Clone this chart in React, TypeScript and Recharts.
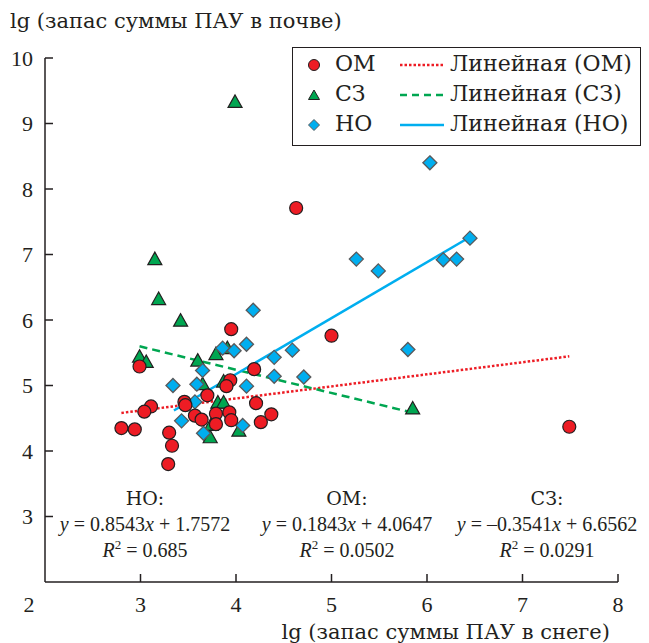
import React from 'react';
import { ScatterChart, Scatter, XAxis, YAxis, Legend } from 'recharts';

// values
const omX = [3.95, 2.99, 4.19, 3.94, 3.9, 3.7, 3.46, 3.47, 3.11, 3.04, 4.21, 4.37, 4.26, 2.8, 2.94, 3.3, 3.33, 3.29, 3.57, 3.64, 3.79, 3.79, 3.93, 3.95, 4.63, 5.0, 7.49];
const omY = [5.86, 5.29, 5.25, 5.08, 4.99, 4.85, 4.75, 4.7, 4.68, 4.6, 4.73, 4.56, 4.44, 4.35, 4.33, 4.28, 4.08, 3.8, 4.54, 4.48, 4.57, 4.41, 4.59, 4.47, 7.71, 5.76, 4.37];

const szX = [3.99, 3.15, 3.19, 3.42, 2.99, 3.06, 3.6, 3.79, 3.91, 3.65, 3.87, 3.81, 3.87, 3.74, 3.73, 4.03, 5.85];
const szY = [9.33, 6.93, 6.32, 5.99, 5.44, 5.36, 5.38, 5.48, 5.57, 5.02, 5.06, 4.74, 4.74, 4.4, 4.21, 4.31, 4.65];

const noX = [4.18, 3.86, 3.98, 4.11, 4.4, 4.59, 4.4, 3.65, 3.34, 3.59, 4.11, 3.57, 3.43, 3.66, 4.07, 6.03, 6.45, 5.26, 5.49, 6.17, 6.31, 5.8, 4.71];
const noY = [6.15, 5.57, 5.53, 5.63, 5.43, 5.54, 5.14, 5.23, 5.0, 5.02, 4.99, 4.75, 4.46, 4.27, 4.39, 8.4, 7.25, 6.93, 6.75, 6.92, 6.93, 5.55, 5.13];

// trend line end points
const omTrendX = [2.8, 7.49];
const omTrendY = [4.581, 5.445];
const szTrendX = [2.99, 5.85];
const szTrendY = [5.598, 4.585];
const noTrendX = [3.35, 6.45];
const noTrendY = [4.619, 7.267];

const xTicks = [2, 3, 4, 5, 6, 7, 8];
const yTicks = [3, 4, 5, 6, 7, 8, 9, 10];

const seriesNames = ['ОМ', 'СЗ', 'НО'];
const trendNames = ['Линейная (ОМ)', 'Линейная (СЗ)', 'Линейная (НО)'];

const eqNames = ['НО:', 'ОМ:', 'СЗ:'];
const eqSlopes = ['0.8543', '0.1843', '–0.3541'];
const eqIntercepts = ['1.7572', '4.0647', '6.6562'];
const eqR2 = ['0.685', '0.0502', '0.0291'];

const xTitle = 'lg (запас суммы ПАУ в снеге)';
const yTitle = 'lg (запас суммы ПАУ в почве)';

const zip = (xs: number[], ys: number[]) => xs.map((x, i) => ({ x, y: ys[i] }));

const FONT = "'Liberation Serif', serif";
// Liberation Serif has no Cyrillic here
const CYR = "'DejaVu Serif', serif";
const INK = '#231F20';
const RED = '#ED1C24';
const GREEN = '#00A651';
const BLUE = '#00AEEF';

const Circle = (p: any) => (
  <circle cx={p.cx} cy={p.cy} r={6.5} fill={RED} stroke={INK} strokeWidth={1.2} />
);
const Triangle = (p: any) => (
  <polygon
    points={`${p.cx},${p.cy - 7} ${p.cx - 7},${p.cy + 5.5} ${p.cx + 7},${p.cy + 5.5}`}
    fill={GREEN}
    stroke={INK}
    strokeWidth={1.2}
  />
);
const Diamond = (p: any) => (
  <polygon
    points={`${p.cx},${p.cy - 7} ${p.cx + 7},${p.cy} ${p.cx},${p.cy + 7} ${p.cx - 7},${p.cy}`}
    fill={BLUE}
    stroke="#58595B"
    strokeWidth={1.3}
  />
);
const NoDot = () => <g />;

// inward tick marks on both axes
const XTickMark = (p: any) => (
  <path d={`M${p.cx},${p.cy}V${p.cy - 8}`} stroke={INK} strokeWidth={1.5} fill="none" />
);
const YTickMark = (p: any) => (
  <path d={`M${p.cx},${p.cy}H${p.cx + 8}`} stroke={INK} strokeWidth={1.5} fill="none" />
);

const XTick = (p: any) => {
  const v = p.payload.value;
  return (
    <text x={v === 2 ? p.x - 16 : p.x} y={p.y + 20} dy="0.35em" textAnchor="middle" fontSize={22} fontFamily={FONT} fill={INK}>
      {v}
    </text>
  );
};

const YTick = (p: any) => (
  <text x={p.x - 10} y={p.y} dy="0.35em" textAnchor="end" fontSize={22} fontFamily={FONT} fill={INK}>
    {p.payload.value}
  </text>
);

const markIcons = [
  <circle cx={8} cy={8} r={5.5} fill={RED} stroke={INK} strokeWidth={1} />,
  <polygon points="8,3 2.5,12.5 13.5,12.5" fill={GREEN} stroke={INK} strokeWidth={1} />,
  <polygon points="8,2.5 13.5,8 8,13.5 2.5,8" fill={BLUE} stroke="#58595B" strokeWidth={1} />,
];
const lineIcons = [
  <line x1={0} x2={44} y1={8} y2={8} stroke={RED} strokeWidth={2.5} strokeDasharray="2.5 2" />,
  <line x1={0} x2={44} y1={8} y2={8} stroke={GREEN} strokeWidth={2.5} strokeDasharray="7 5" />,
  <line x1={0} x2={44} y1={8} y2={8} stroke={BLUE} strokeWidth={2.5} />,
];

const renderLegend = () => (
  <div
    style={{
      position: 'relative',
      width: 349,
      height: 99,
      boxSizing: 'border-box',
      border: `1.5px solid ${INK}`,
      background: '#fff',
      fontFamily: CYR,
      fontSize: 22,
      color: INK,
    }}
  >
    {seriesNames.map((name, i) => (
      <React.Fragment key={name}>
        <svg width={16} height={16} style={{ position: 'absolute', left: 13, top: 9 + i * 30 }}>
          {markIcons[i]}
        </svg>
        <span style={{ position: 'absolute', left: 42, top: 2 + i * 30, lineHeight: '28px' }}>{name}</span>
        <svg width={44} height={16} style={{ position: 'absolute', left: 107, top: 9 + i * 30 }}>
          {lineIcons[i]}
        </svg>
        <span style={{ position: 'absolute', left: 157, top: 2 + i * 30, lineHeight: '28px', whiteSpace: 'nowrap' }}>
          {trendNames[i]}
        </span>
      </React.Fragment>
    ))}
  </div>
);

const eqCenters = [145, 347, 547];

export default function App() {
  return (
    <div style={{ position: 'absolute', left: 0, top: 0, width: 649, height: 643, overflow: 'hidden', background: '#fff', fontFamily: FONT, color: INK }}>
      <ScatterChart width={649} height={643} margin={{ top: 58, right: 31, bottom: 40, left: 25 }}>
        <XAxis
          type="number"
          dataKey="x"
          domain={[2, 8]}
          ticks={xTicks}
          interval={0}
          height={21}
          tickSize={0}
          tickLine={false}
          tick={<XTick />}
          axisLine={{ stroke: INK, strokeWidth: 1.5 }}
        />
        <YAxis
          type="number"
          dataKey="y"
          domain={[2, 10]}
          ticks={yTicks}
          interval={0}
          width={20}
          tickSize={0}
          tickLine={false}
          tick={<YTick />}
          axisLine={{ stroke: INK, strokeWidth: 1.5 }}
        />
        <Legend layout="vertical" align="center" verticalAlign="middle" content={renderLegend} wrapperStyle={{ left: 292, top: 47, width: 349 }} />
        <Scatter data={xTicks.slice(1).map((v) => ({ x: v, y: 2 }))} shape={XTickMark} legendType="none" isAnimationActive={false} />
        <Scatter data={yTicks.map((v) => ({ x: 2, y: v }))} shape={YTickMark} legendType="none" isAnimationActive={false} />
        <Scatter data={zip(omTrendX, omTrendY)} line={{ stroke: RED, strokeWidth: 2.5, strokeDasharray: '2.5 2' }} lineType="joint" shape={NoDot} legendType="none" isAnimationActive={false} />
        <Scatter data={zip(szTrendX, szTrendY)} line={{ stroke: GREEN, strokeWidth: 2.5, strokeDasharray: '8 5' }} lineType="joint" shape={NoDot} legendType="none" isAnimationActive={false} />
        <Scatter data={zip(noTrendX, noTrendY)} line={{ stroke: BLUE, strokeWidth: 2.5 }} lineType="joint" shape={NoDot} legendType="none" isAnimationActive={false} />
        <Scatter name={seriesNames[1]} data={zip(szX, szY)} shape={Triangle} isAnimationActive={false} />
        <Scatter name={seriesNames[2]} data={zip(noX, noY)} shape={Diamond} isAnimationActive={false} />
        <Scatter name={seriesNames[0]} data={zip(omX, omY)} shape={Circle} isAnimationActive={false} />
      </ScatterChart>

      <div style={{ position: 'absolute', left: 10, top: 6, fontFamily: CYR, fontSize: 21, lineHeight: '30px', whiteSpace: 'nowrap' }}>{yTitle}</div>
      <div style={{ position: 'absolute', right: 39, top: 617, fontFamily: CYR, fontSize: 21, lineHeight: '30px', whiteSpace: 'nowrap' }}>{xTitle}</div>

      {eqNames.map((name, i) => (
        <div
          key={name}
          style={{
            position: 'absolute',
            left: eqCenters[i] - 120,
            top: 485,
            width: 240,
            textAlign: 'center',
            fontSize: 20,
            lineHeight: '26px',
            whiteSpace: 'nowrap',
          }}
        >
          <div style={{ fontFamily: CYR, fontSize: 19 }}>{name}</div>
          <div>
            <i>y</i> = {eqSlopes[i]}
            <i>x</i> + {eqIntercepts[i]}
          </div>
          <div>
            <i>R</i>
            <span style={{ fontSize: 13, position: 'relative', top: -8 }}>2</span> = {eqR2[i]}
          </div>
        </div>
      ))}
    </div>
  );
}
